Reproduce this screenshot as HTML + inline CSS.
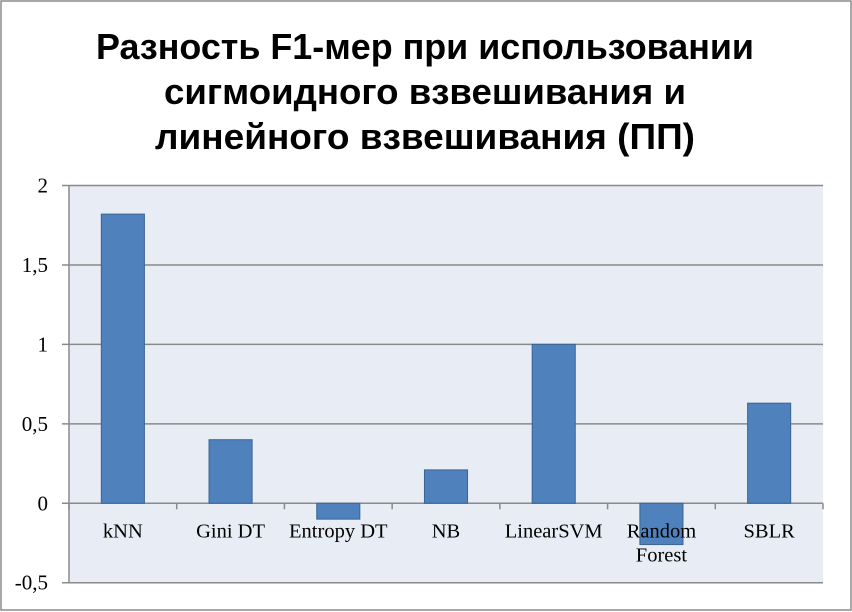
<!DOCTYPE html>
<html><head><meta charset="utf-8"><style>
html,body{margin:0;padding:0;background:#fff}
svg{display:block}
text{font-family:"Liberation Serif","DejaVu Serif",serif}
</style></head><body>
<svg width="852" height="612">
<rect x="1" y="1" width="850" height="609" fill="#fff" stroke="#8c8c8c" stroke-width="1.5"/>
<g font-weight="bold" font-size="36" text-anchor="middle" fill="#000">
<text x="425" y="59" style="font-family:'Liberation Sans',sans-serif" textLength="658" lengthAdjust="spacingAndGlyphs">Разность F1-мер при использовании</text>
<text x="425" y="104" style="font-family:'Liberation Sans',sans-serif" textLength="522" lengthAdjust="spacingAndGlyphs">сигмоидного взвешивания и</text>
<text x="425" y="149" style="font-family:'Liberation Sans',sans-serif" textLength="540" lengthAdjust="spacingAndGlyphs">линейного взвешивания (ПП)</text>
</g>
<rect x="69" y="185.5" width="754" height="397" fill="#e8ecf4"/>
<g id="grid"></g><g id="bars"></g><g id="axes"></g>
</svg>
<script>
const categories=["kNN","Gini DT","Entropy DT","NB","LinearSVM","Random Forest","SBLR"];
const values=[1.82,0.40,-0.10,0.21,1.00,-0.26,0.63];
const ticks=[2,1.5,1,0.5,0,-0.5];
const tickLabels=["2","1,5","1","0,5","0","-0,5"];
const NS="http://www.w3.org/2000/svg";
const L=69,R=823,T=185.5,B=582.7,vmax=2,vmin=-0.5;
const y=v=>T+(vmax-v)/(vmax-vmin)*(B-T);
const band=(R-L)/categories.length;
const x=i=>L+i*band;
function mk(tag,attrs,parent){const e=document.createElementNS(NS,tag);for(const k in attrs)e.setAttribute(k,attrs[k]);parent.appendChild(e);return e;}
const grid=document.getElementById('grid'),bars=document.getElementById('bars'),axes=document.getElementById('axes');
ticks.forEach((t,i)=>{
  const g=mk('line',{x1:62,x2:R,y1:y(t),y2:y(t),stroke:'#8a8a8a','stroke-width':1.5},grid);
  
  
  const tx=mk('text',{x:48,y:y(t)+7,'text-anchor':'end','font-size':21,fill:'#000'},axes);
  tx.textContent=tickLabels[i];
  
  
});
const ya=mk('line',{x1:L,x2:L,y1:T,y2:B,stroke:'#8a8a8a','stroke-width':1.5},axes);


for(let i=0;i<=categories.length;i++){
  const tk=mk('line',{x1:x(i),x2:x(i),y1:y(0),y2:y(0)+6,stroke:'#8a8a8a','stroke-width':1.5},axes);
  
  
}
categories.forEach((c,i)=>{
  const v=values[i],bx=x(i)+band*0.3,bw=band*0.4;
  const r=mk('rect',{x:bx,y:Math.min(y(v),y(0)),width:bw,height:Math.abs(y(v)-y(0)),fill:'#4f81bd',stroke:'#3a6593','stroke-width':1},bars);
  
  
  const parts=c==="Random Forest"?["Random","Forest"]:[c];
  parts.forEach((p,j)=>{
    const t=mk('text',{x:x(i)+band/2,y:y(0)+34+j*24,'text-anchor':'middle','font-size':20.5,fill:'#000'},axes);
    t.textContent=p;
    
    
  });
});
</script>
</body></html>
